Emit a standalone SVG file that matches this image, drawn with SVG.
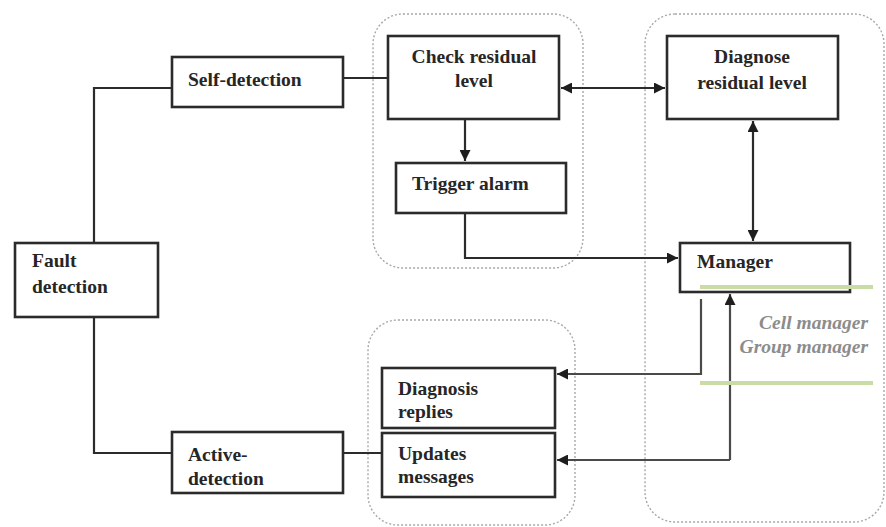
<svg xmlns="http://www.w3.org/2000/svg" width="886" height="527" viewBox="0 0 886 527">
  <style>
    .box { fill: #ffffff; stroke: #2b2b2b; stroke-width: 2.6; }
    .group { fill: none; stroke: #a8a8a8; stroke-width: 1.4; stroke-dasharray: 2 2; }
    .lbl { font-family: "Liberation Serif", "DejaVu Serif", serif; font-weight: bold; font-size: 19.5px; fill: #262626; }
    .note { font-family: "Liberation Serif", "DejaVu Serif", serif; font-weight: bold; font-style: italic; font-size: 19.5px; fill: #8c8c8c; }
    .wire { fill: none; stroke: #2b2b2b; stroke-width: 2.2; }
    .wire.soft { stroke: #4a4a4a; }
    .band { stroke: #c9dca6; stroke-width: 4; }
  </style>
  <defs>
    <marker id="arrow" viewBox="0 0 10 10" refX="10" refY="5" markerWidth="5.5" markerHeight="5" orient="auto-start-reverse" markerUnits="strokeWidth">
      <path d="M0,0 L10,5 L0,10 Z" fill="#1e1e1e"/>
    </marker>
  </defs>
  <rect width="886" height="527" fill="#ffffff"/>

  <!-- dotted groupings -->
  <g id="groups">
    <rect class="group" x="373" y="14" width="210" height="254" rx="30"/>
    <rect class="group" x="645" y="14" width="239" height="508" rx="30"/>
    <rect class="group" x="368" y="320" width="207" height="205" rx="30"/>
  </g>

  <!-- connectors -->
  <g id="connectors">
    <path class="wire" d="M94,243 V88 H172"/>
    <path class="wire" d="M343,78 H388"/>
    <path class="wire" d="M94,317 V453 H172"/>
    <path class="wire" d="M343,453 H382"/>
    <path class="wire" d="M561,88 H665" marker-start="url(#arrow)" marker-end="url(#arrow)"/>
    <path class="wire" d="M465,119 V161" marker-end="url(#arrow)"/>
    <path class="wire" d="M753,121 V241" marker-start="url(#arrow)" marker-end="url(#arrow)"/>
    <path class="wire" d="M465,213 V258 H678" marker-end="url(#arrow)"/>
    <path class="wire soft" d="M701,299 V374 H557" marker-end="url(#arrow)"/>
    <path class="wire soft" d="M730,460 H557" marker-end="url(#arrow)"/>
    <path class="wire soft" d="M730,460 V294" marker-end="url(#arrow)"/>
  </g>

  <g id="fault-detection">
    <rect class="box" x="15" y="243" width="143" height="74"/>
    <text class="lbl" x="32" y="267">Fault</text>
    <text class="lbl" x="32" y="293">detection</text>
  </g>
  <g id="self-detection">
    <rect class="box" x="172" y="57" width="171" height="50"/>
    <text class="lbl" x="188" y="86">Self-detection</text>
  </g>
  <g id="active-detection">
    <rect class="box" x="172" y="432" width="171" height="61"/>
    <text class="lbl" x="188" y="461">Active-</text>
    <text class="lbl" x="188" y="485">detection</text>
  </g>
  <g id="check-residual">
    <rect class="box" x="388" y="36" width="171" height="83"/>
    <text class="lbl" x="474" y="63" text-anchor="middle">Check residual</text>
    <text class="lbl" x="474" y="87" text-anchor="middle">level</text>
  </g>
  <g id="trigger-alarm">
    <rect class="box" x="396" y="163" width="170" height="50"/>
    <text class="lbl" x="412" y="190">Trigger alarm</text>
  </g>
  <g id="diagnose-residual">
    <rect class="box" x="667" y="36" width="171" height="83"/>
    <text class="lbl" x="752" y="63" text-anchor="middle">Diagnose</text>
    <text class="lbl" x="752" y="89" text-anchor="middle">residual level</text>
  </g>
  <g id="manager">
    <rect class="box" x="680" y="243" width="170" height="49"/>
    <text class="lbl" x="697" y="268">Manager</text>
  </g>
  <g id="diagnosis-replies">
    <rect class="box" x="382" y="368" width="173" height="60"/>
    <text class="lbl" x="398" y="395">Diagnosis</text>
    <text class="lbl" x="398" y="418">replies</text>
  </g>
  <g id="updates-messages">
    <rect class="box" x="382" y="433" width="173" height="64"/>
    <text class="lbl" x="398" y="460">Updates</text>
    <text class="lbl" x="398" y="483">messages</text>
  </g>

  <!-- manager levels -->
  <g id="manager-levels">
    <line class="band" x1="700" y1="287" x2="873" y2="287"/>
    <line class="band" x1="700" y1="383" x2="873" y2="383"/>
    <text class="note" x="868" y="329" text-anchor="end">Cell manager</text>
    <text class="note" x="868" y="353" text-anchor="end">Group manager</text>
  </g>
</svg>
